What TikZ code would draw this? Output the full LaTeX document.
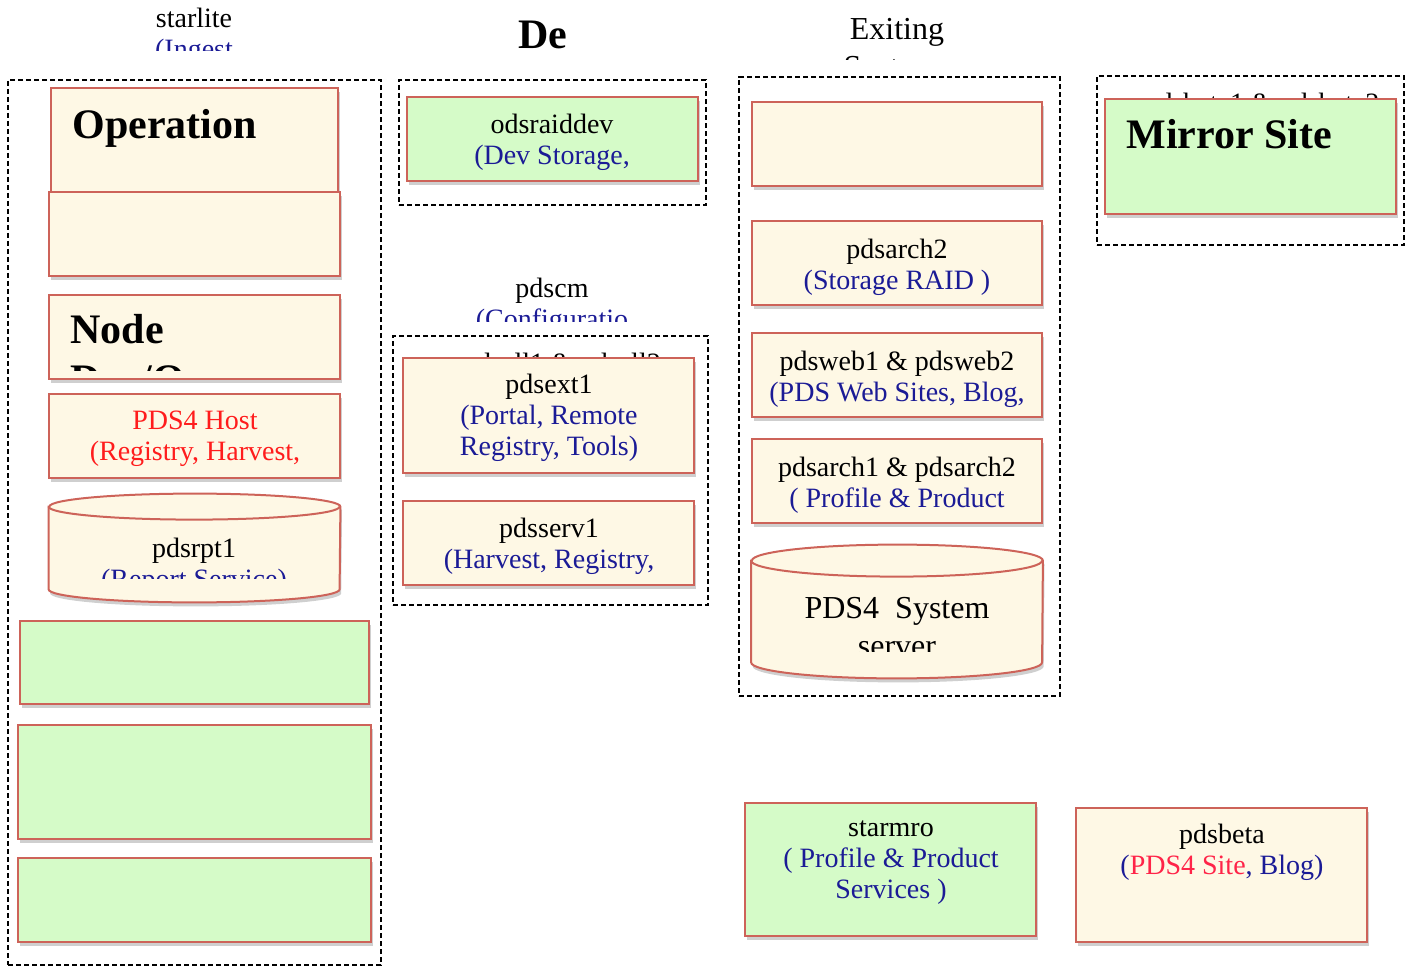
\documentclass[tikz,border=0pt]{standalone}
\usepackage{fontspec}
\setmainfont{Liberation Serif}
\usetikzlibrary{shadows}
\definecolor{edge}{HTML}{CD6359}
\definecolor{cream}{HTML}{FEF8E5}
\definecolor{mint}{HTML}{D5FBC8}
\definecolor{navy}{HTML}{1B1B96}
\definecolor{hostred}{HTML}{FF1C1C}
\definecolor{sitered}{HTML}{FF2448}
\newcommand{\svc}[1]{\textcolor{navy}{#1}}
\newcommand{\drum}[2]{% body node, end radius
  \path[draw=edge, fill=cream, line width=1pt, shade3]
    (#1.north west) -- (#1.south west)
    arc[start angle=180, end angle=360, x radius=72.75pt, y radius=#2]
    -- (#1.north east)
    arc[start angle=0, end angle=180, x radius=72.75pt, y radius=#2] -- cycle;
  \draw[edge, line width=1pt] (#1.north west)
    arc[start angle=180, end angle=360, x radius=72.75pt, y radius=#2];}
\tikzset{
  grp/.style={draw, dash pattern=on 2.6pt off 1.4pt, line width=0.75pt, inner sep=0pt},
  shade3/.style={drop shadow={shadow xshift=0.8pt, shadow yshift=-2pt, opacity=0.38}},
  srv/.style={draw=edge, fill=cream, line width=1pt, inner sep=0pt,
    minimum width=145.5pt, minimum height=42pt, shade3},
  fresh/.style={srv, fill=mint},
  body/.style={inner sep=0pt, minimum width=145.5pt},
  txt/.style={inner sep=0pt, align=center, anchor=north, font=\fontsize{14}{15.5}\selectfont},
  big/.style={txt, font=\fontsize{16}{19}\selectfont},
  head/.style={inner sep=0pt, font=\fontsize{21}{25}\selectfont\bfseries},
}
\begin{document}
\begin{tikzpicture}[x=0.5pt, y=-0.5pt]
\useasboundingbox (0,0) rectangle (1409,969);

\node[grp, minimum width=186.5pt, minimum height=442.5pt] (ingest) at (194.5,522.5) {};
\node[grp, minimum width=153.5pt, minimum height=62.5pt] (devgrp) at (552.5,142.5) {};
\node[grp, minimum width=157.5pt, minimum height=134.5pt] (cmgrp) at (550.5,470.5) {};
\node[grp, minimum width=160.5pt, minimum height=309.5pt] (oldgrp) at (899.5,386.5) {};
\node[grp, minimum width=153.5pt, minimum height=84.5pt] (mirgrp) at (1250.5,160.5) {};

\begin{scope}
  \clip (0,0) rectangle (400,50);
  \node[txt] (starlite) at (194,8) {starlite\\\svc{(Ingest}};
\end{scope}
\node[head, anchor=base] (devtitle) at (543,48) {De};
\begin{scope}
  \clip (700,0) rectangle (1100,59);
  \node[big] (exiting) at (897,18) {Exiting\\Systems};
\end{scope}
\begin{scope}
  \clip (400,260) rectangle (700,321);
  \node[txt] (pdscm) at (552,278) {pdscm\\\svc{(Configuratio}};
\end{scope}
\begin{scope}
  \clip (400,340) rectangle (700,358);
  \node[txt] (shells) at (562,353) {pdsell1 \& pdsell2};
\end{scope}
\begin{scope}
  \clip (1100,80) rectangle (1400,99);
  \node[txt] (betas) at (1262,93) {pdsbeta1 \& pdsbeta2};
\end{scope}

\node[srv, minimum width=143.5pt, minimum height=58.5pt] (ops) at (194.5,146.5) {};
\node[head, anchor=base west] (opstxt) at (72,138) {Operation};
\node[srv] (ops2) at (194.5,234) {};
\node[srv] (devops) at (194.5,337) {};
\begin{scope}
  \clip (52,298) rectangle (338,370);
  \node[head, anchor=north west, align=left] (devopstxt) at (70,314) {Node\\Dev/Ops};
\end{scope}
\node[srv] (host) at (194.5,436) {};
\node[txt, text=hostred] (hosttxt) at (195,411) {PDS4 Host\\(Registry, Harvest,};
\node[body, minimum height=41pt] (rpt) at (194.5,548) {};
\drum{rpt}{6.5pt}
\begin{scope}
  \clip (52,522) rectangle (338,578);
  \node[txt] (rpttxt) at (194,538) {pdsrpt1\\\svc{(Report Service)}};
\end{scope}
\node[fresh, minimum width=174.5pt, minimum height=41.5pt] (new1) at (194.5,662.5) {};
\node[fresh, minimum width=176.5pt, minimum height=57pt] (new2) at (194.5,782) {};
\node[fresh, minimum width=176.5pt] (new3) at (194.5,900) {};

\node[fresh] (raid) at (552.5,139) {};
\node[txt] (raidtxt) at (552,114) {odsraiddev\\\svc{(Dev Storage,}};
\node[srv, minimum height=57.5pt] (ext1) at (548.5,415.5) {};
\node[txt] (ext1txt) at (549,374) {pdsext1\\\svc{(Portal, Remote}\\\svc{Registry, Tools)}};
\node[srv] (serv1) at (548.5,543) {};
\node[txt] (serv1txt) at (549,518) {pdsserv1\\\svc{(Harvest, Registry,}};

\node[srv, minimum width=145pt] (blank) at (897,143.5) {};
\node[srv, minimum width=145pt] (arch2) at (897,263) {};
\node[txt] (arch2txt) at (897,239) {pdsarch2\\\svc{(Storage RAID )}};
\node[srv, minimum width=145pt] (web) at (897,375) {};
\node[txt] (webtxt) at (897,351) {pdsweb1 \& pdsweb2\\\svc{(PDS Web Sites, Blog,}};
\node[srv, minimum width=145pt] (arch12) at (897,481) {};
\node[txt] (arch12txt) at (897,457) {pdsarch1 \& pdsarch2\\\svc{( Profile \& Product}};
\node[body, minimum height=50.5pt] (sys) at (897,611.5) {};
\drum{sys}{8pt}
\begin{scope}
  \clip (755,580) rectangle (1040,651);
  \node[big] (systxt) at (897,597) {PDS4\ \ System\\server};
\end{scope}

\node[fresh, minimum height=57.5pt] (mirror) at (1250.5,156.5) {};
\node[head, anchor=base west] (mirrortxt) at (1126,148) {Mirror Site};

\node[fresh, minimum height=66.5pt] (starmro) at (890.5,869.5) {};
\node[txt] (starmrotxt) at (891,820) {starmro\\\svc{( Profile \& Product}\\\svc{Services )}};
\node[srv, minimum height=67pt] (beta) at (1221.5,875) {};
\node[txt] (betatxt) at (1222,824) {pdsbeta\\\svc{(}\textcolor{sitered}{PDS4 Site}\svc{, Blog)}};
\end{tikzpicture}
\end{document}
